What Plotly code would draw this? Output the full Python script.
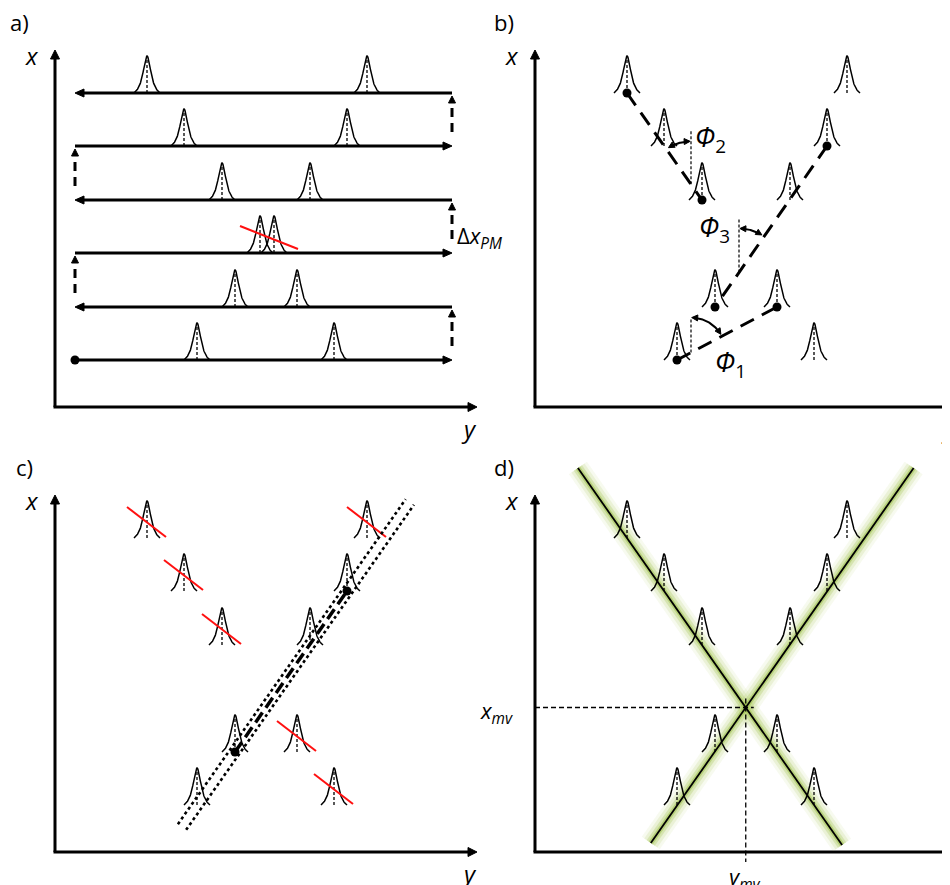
import numpy as np
import plotly.graph_objects as go

W, H = 950, 885
PAGE_OFFSET = 8   # the page body margin that shifts the figure in the browser

# ---------------- data (in px units of each panel) ----------------
# scan-line levels along x (bottom to top)
ROW_X = [47, 100, 154, 207, 261, 314]
# the two peak positions along y on every scan line
PEAK_Y_LEFT = [142, 180, 205, 167, 129, 92]
PEAK_Y_RIGHT = [279, 242, 219, 255, 292, 312]
SCAN_Y_START, SCAN_Y_END = 20, 397
PEAK_HEIGHT = 37
MERGED_ROW = 2            # row where both peaks merge (only shown in panel a)
RED_CUT_A = [185, 181, 243, 158]   # red cut in panel a: y0, x0, y1, x1

# panel b: peaks joined to a chain
B_DOTS = [(5, "L"), (3, "L"), (4, "R"), (1, "L"), (1, "R"), (0, "L")]
B_SEGMENTS = [((0, "L"), (1, "R")), ((5, "L"), (3, "L")), ((4, "R"), (1, "L"))]
PHI_NAMES = ["1", "2", "3"]
PHI_REF_Y = [156, 156, 204]       # y position of vertical reference line
PHI_REF_LEN = [34, 54, 54]
PHI_RADIUS = [35, 43, 44]
PHI_LABEL_POS = [(178, 44, "left"), (158, 269, "left"), (197, 179, "right")]

# panel c: peaks rejected (red) and the track
C_REJECTED = [(3, "L"), (4, "L"), (5, "L"), (0, "R"), (1, "R"), (5, "R")]
C_TRACK = [(0, "L"), (1, "L"), (3, "R"), (4, "R")]
C_TRACK_ENDS = [(1, "L"), (4, "R")]
C_BAND_X = [25, 350]
C_BAND_HALF = 5

# panel d: two fitted lines
D_LINE_A = [(3, "L"), (4, "L"), (5, "L"), (0, "R"), (1, "R")]
D_LINE_A_X = [7, 384]
D_LINE_B = [(0, "L"), (1, "L"), (3, "R"), (4, "R")]
D_LINE_B_X = [9, 384]

# panel layout: axis corner position (px), and the pixel box of each panel
PANELS = {
    1: dict(ox=55, oy=407, xd=[0, 0.5], yd=[1 - 442 / H, 1], top=0, bot=442, left=0, right=475),
    2: dict(ox=535, oy=407, xd=[0.5, 1], yd=[1 - 442 / H, 1], top=0, bot=442, left=475, right=950),
    3: dict(ox=55, oy=852, xd=[0, 0.5], yd=[0, 1 - 442 / H], top=442, bot=885, left=0, right=475),
    4: dict(ox=535, oy=852, xd=[0.5, 1], yd=[0, 1 - 442 / H], top=442, bot=885, left=475, right=950),
}
PANEL_LETTERS = ["a)", "b)", "c)", "d)"]

FONT = "Open Sans"
fig = go.Figure()


def ax(p):
    return ("x", "y") if p == 1 else (f"x{p}", f"y{p}")


def line(p, u, v, color="black", width=3, dash=None):
    xa, ya = ax(p)
    fig.add_trace(go.Scatter(x=list(u), y=list(v), mode="lines", xaxis=xa, yaxis=ya,
                             line=dict(color=color, width=width, dash=dash),
                             hoverinfo="skip", showlegend=False))


def poly(p, u, v, color="black"):
    xa, ya = ax(p)
    fig.add_trace(go.Scatter(x=list(u), y=list(v), mode="lines", fill="toself", fillcolor=color,
                             xaxis=xa, yaxis=ya, line=dict(color=color, width=1),
                             hoverinfo="skip", showlegend=False))


def dots(p, u, v, size=9):
    xa, ya = ax(p)
    fig.add_trace(go.Scatter(x=list(u), y=list(v), mode="markers", xaxis=xa, yaxis=ya,
                             marker=dict(color="black", size=size),
                             hoverinfo="skip", showlegend=False))


def head(p, tip, e, hl, hw):
    e = np.asarray(e, float)
    e = e / np.linalg.norm(e)
    n = np.array([-e[1], e[0]])
    tip = np.asarray(tip, float)
    b = tip - hl * e
    pts = [tip, b + hw * n, b - hw * n, tip]
    poly(p, [q[0] for q in pts], [q[1] for q in pts])
    return b


def arrow(p, p0, p1, width=3, hl=10, hw=4.5, dash=None):
    p0 = np.asarray(p0, float)
    p1 = np.asarray(p1, float)
    b = head(p, p1, p1 - p0, hl, hw)
    line(p, [p0[0], b[0]], [p0[1], b[1]], width=width, dash=dash)


def peak(p, c, base):
    d = np.linspace(-13, 13, 81)
    g = 5.0
    L = 1 / (1 + (d / g) ** 2)
    b0 = 1 / (1 + (13 / g) ** 2)
    v = base + PEAK_HEIGHT * (L - b0) / (1 - b0)
    line(p, c + d, v, width=1.5)
    line(p, [c, c], [base, base + PEAK_HEIGHT - 2], width=1.3, dash="3px,2px")


def pos(key):
    r, s = key
    return (PEAK_Y_LEFT[r] if s == "L" else PEAK_Y_RIGHT[r], ROW_X[r])


def all_peaks(p, skip_merged=True):
    for r in range(len(ROW_X)):
        if skip_merged and r == MERGED_ROW:
            continue
        peak(p, PEAK_Y_LEFT[r], ROW_X[r])
        peak(p, PEAK_Y_RIGHT[r], ROW_X[r])


def axes(p, xlen=357, ylen=422):
    arrow(p, (0, 0), (0, xlen), width=3, hl=9, hw=4.5)
    arrow(p, (-1.5, 0), (ylen, 0), width=3, hl=9, hw=4.5)


def text(p, u, v, s, size=22, xanchor="center", yanchor="middle"):
    xa, ya = ax(p)
    fig.add_annotation(x=u, y=v, xref=xa, yref=ya, text=s, showarrow=False,
                       xanchor=xanchor, yanchor=yanchor,
                       font=dict(family=FONT, size=size, color="black"))


def fit_line(keys):
    pts = np.array([pos(k) for k in keys], float)
    k, b = np.polyfit(pts[:, 1], pts[:, 0], 1)   # y as function of x
    return k, b


# ---------------- panel a ----------------
axes(1)
for r, xv in enumerate(ROW_X):
    if r % 2 == 0:
        arrow(1, (SCAN_Y_START, xv), (SCAN_Y_END, xv), width=3, hl=9, hw=4)
    else:
        arrow(1, (SCAN_Y_END, xv), (SCAN_Y_START, xv), width=3, hl=9, hw=4)
    peak(1, PEAK_Y_LEFT[r], xv)
    peak(1, PEAK_Y_RIGHT[r], xv)
for r in range(len(ROW_X) - 1):
    yy = SCAN_Y_END if r % 2 == 0 else SCAN_Y_START
    arrow(1, (yy, ROW_X[r] + 14), (yy, ROW_X[r + 1] - 3), width=3, hl=7, hw=3.5, dash="9px,6px")
dots(1, [SCAN_Y_START], [ROW_X[0]])
line(1, [RED_CUT_A[0], RED_CUT_A[2]], [RED_CUT_A[1], RED_CUT_A[3]], color="#ff1010", width=2)
text(1, 400, 170, "Δ<i>x</i><sub><i>PM</i></sub>", size=22, xanchor="left")

# ---------------- panel b ----------------
axes(2)
all_peaks(2)
for a, b in B_SEGMENTS:
    pa, pb = pos(a), pos(b)
    line(2, [pa[0], pb[0]], [pa[1], pb[1]], width=3, dash="15px,9px")
bd = [pos(k) for k in B_DOTS]
dots(2, [q[0] for q in bd], [q[1] for q in bd])
for i in range(3):
    a, b = B_SEGMENTS[i]
    pa, pb = np.array(pos(a), float), np.array(pos(b), float)
    yr = PHI_REF_Y[i]
    t = (yr - pa[0]) / (pb[0] - pa[0])
    vert = pa + t * (pb - pa)
    line(2, [yr, yr], [vert[1], vert[1] + PHI_REF_LEN[i]], width=1.2, dash="3px,2px")
    up = pb if pb[1] > pa[1] else pa
    dvec = up - vert
    ang_line = np.arctan2(dvec[1], dvec[0])
    R = PHI_RADIUS[i]
    a0, a1 = np.pi / 2, ang_line
    margin = 0.06
    sgn = np.sign(a1 - a0)
    th = np.linspace(a0 + sgn * 0.02, a1 - sgn * margin, 40)
    cu = vert[0] + R * np.cos(th)
    cv = vert[1] + R * np.sin(th)
    head(2, (cu[0], cv[0]), (cu[0] - cu[3], cv[0] - cv[3]), 6, 3)
    head(2, (cu[-1], cv[-1]), (cu[-1] - cu[-4], cv[-1] - cv[-4]), 6, 3)
    line(2, cu[3:-3], cv[3:-3], width=2)
    lu, lv, anc = PHI_LABEL_POS[i]
    text(2, lu, lv, f"<i>Φ</i><sub>{PHI_NAMES[i]}</sub>", size=27, xanchor=anc)

# ---------------- panel c ----------------
axes(3)
all_peaks(3)
for k in C_REJECTED:
    c, base = pos(k)
    line(3, [c - 20, c + 19], [base + 31, base + 1], color="#ff1010", width=2)
kc, bc = fit_line(C_TRACK)
xs = np.array(C_BAND_X, float)
ys = kc * xs + bc
dirv = np.array([ys[1] - ys[0], xs[1] - xs[0]])
dirv /= np.linalg.norm(dirv)
nrm = np.array([dirv[1], -dirv[0]])
for s in (-1, 1):
    line(3, ys + s * C_BAND_HALF * nrm[0], xs + s * C_BAND_HALF * nrm[1], width=2.6, dash="dot")
te = [pos(k) for k in C_TRACK_ENDS]
line(3, [te[0][0], te[1][0]], [te[0][1], te[1][1]], width=3.5, dash="12px,6px")
dots(3, [q[0] for q in te], [q[1] for q in te], size=9)

# ---------------- panel d ----------------
axes(4)
ka, ba = fit_line(D_LINE_A)
kb, bb = fit_line(D_LINE_B)
for k_, b_, rng in ((ka, ba, D_LINE_A_X), (kb, bb, D_LINE_B_X)):
    xx = np.array(rng, float)
    yy = k_ * xx + b_
    for w_, col in ((22, "rgba(175,210,100,0.10)"), (16, "rgba(165,200,85,0.16)"),
                    (10, "rgba(155,192,65,0.26)"), (5, "rgba(140,180,45,0.40)")):
        line(4, yy, xx, color=col, width=w_)
for k_, b_, rng in ((ka, ba, D_LINE_A_X), (kb, bb, D_LINE_B_X)):
    xx = np.array(rng, float)
    line(4, k_ * xx + b_, xx, width=1.8)
all_peaks(4)
xi = (bb - ba) / (ka - kb)
yi = ka * xi + ba
line(4, [0, yi + 8], [xi, xi], width=1.3, dash="5px,3px")
line(4, [yi, yi], [xi + 9, -10], width=1.3, dash="5px,3px")
text(4, -20, xi - 4, "<i>x</i><sub><i>mv</i></sub>", size=22, xanchor="right")
text(4, yi - 2, -26, "<i>y</i><sub><i>mv</i></sub>", size=22)

# labels
for p in PANELS:
    text(p, -36 if p == 1 else -31, 385, PANEL_LETTERS[p - 1], size=22)
    text(p, -23, 352, "<i>x</i>", size=24)
    text(p, 414, -21, "<i>y</i>", size=24)

layout = dict(width=W, height=H, margin=dict(l=0, r=0, t=0, b=0),
              paper_bgcolor="white", plot_bgcolor="white", showlegend=False)
for p, d in PANELS.items():
    xa, ya = ax(p)
    xk = "xaxis" if p == 1 else f"xaxis{p}"
    yk = "yaxis" if p == 1 else f"yaxis{p}"
    ox = d["ox"] - PAGE_OFFSET
    oy = d["oy"] - PAGE_OFFSET
    layout[xk] = dict(domain=d["xd"], range=[d["left"] - ox, d["right"] - ox],
                      visible=False, fixedrange=True, anchor=ya)
    layout[yk] = dict(domain=d["yd"], range=[oy - d["bot"], oy - d["top"]],
                      visible=False, fixedrange=True, anchor=xa)
fig.update_layout(**layout)
fig.write_html("out.html")
